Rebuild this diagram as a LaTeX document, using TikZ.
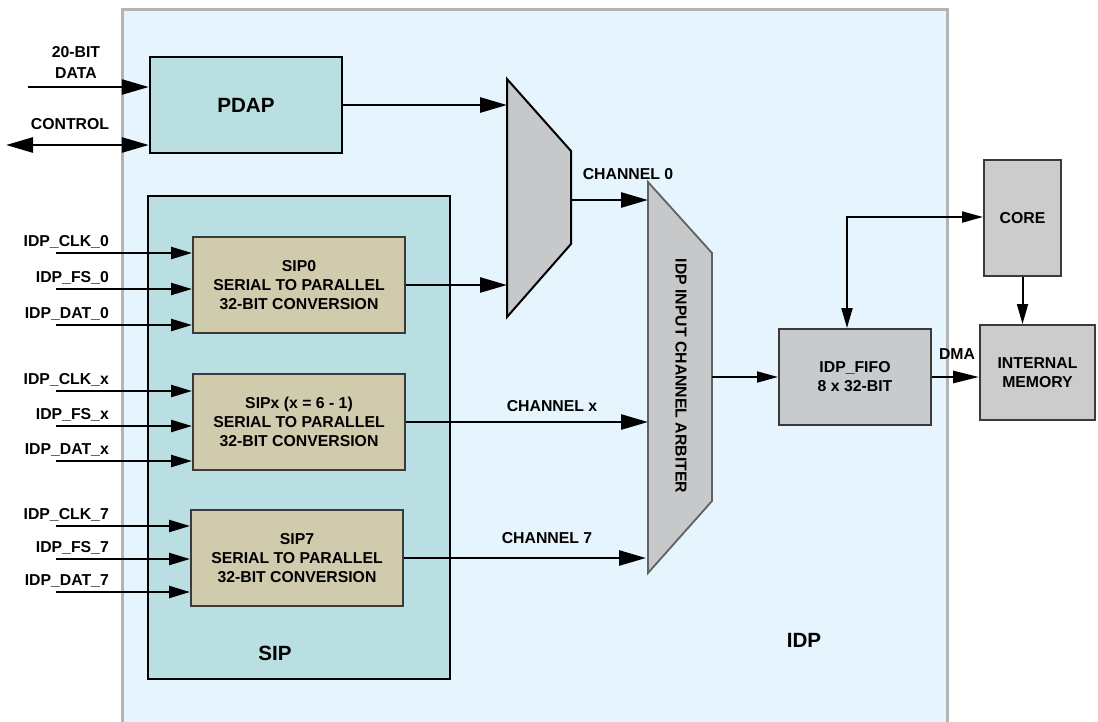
\documentclass[tikz,border=0pt]{standalone}
\usepackage{fontspec}
\setmainfont{Liberation Sans}
\usetikzlibrary{arrows.meta,calc}
\definecolor{idpfill}{HTML}{E6F4FD}
\definecolor{idpborder}{HTML}{B4B4B4}
\definecolor{pdapfill}{HTML}{B9DFE2}
\definecolor{sipfill}{HTML}{D1CBAE}
\definecolor{muxgray}{HTML}{C6C8CA}
\definecolor{fifogray}{HTML}{C8CBCE}
\definecolor{boxgray}{HTML}{CCCCCC}
\definecolor{edgegray}{HTML}{3A3A3A}
\tikzset{
  lbl/.style={font=\fontsize{15.8}{19}\selectfont\bfseries, text=black, inner sep=0pt},
  biglbl/.style={font=\fontsize{20.6}{24}\selectfont\bfseries, text=black, inner sep=0pt},
  tealbox/.style={draw=black, fill=pdapfill, line width=2.4pt, inner sep=0pt},
  sipbox/.style={draw=edgegray, fill=sipfill, line width=2pt, inner sep=0pt, align=center, lbl},
  graybox/.style={draw=edgegray, fill=boxgray, line width=2pt, inner sep=0pt, align=center, lbl},
  inarr/.style={line width=2.3pt, -{Triangle[length=21pt,width=12pt]}},
  bigarr/.style={line width=2.6pt, -{Triangle[length=27pt,width=15pt]}},
  thinarr/.style={line width=1.7pt, -{Triangle[length=21pt,width=11pt]}},
  midarr/.style={line width=2pt, -{Triangle[length=20pt,width=11pt]}},
}
\begin{document}
\begin{tikzpicture}[x=1pt,y=-1pt]
\useasboundingbox (0,0) rectangle (1098,721);
\clip (0,0) rectangle (1098,721);

% IDP block
\node[draw=idpborder, fill=idpfill, line width=2.6pt, anchor=north west,
      minimum width=825pt, minimum height=740pt, inner sep=0pt] (idp) at (121,8) {};
\node[biglbl, anchor=base] (idplbl) at (804,647) {IDP};

% PDAP
\node[tealbox, biglbl, minimum width=192pt, minimum height=96pt] (pdap) at (246,105) {PDAP};

% SIP container
\node[tealbox, minimum width=302pt, minimum height=483pt] (sip) at (299,437.5) {};
\node[biglbl] (siplbl) at (275,653) {SIP};

% SIP blocks
\node[sipbox, minimum width=212pt, minimum height=96pt] (sip0) at (299,285)
  {SIP0\\SERIAL TO PARALLEL\\32-BIT CONVERSION};
\node[sipbox, minimum width=212pt, minimum height=96pt] (sipx) at (299,422)
  {SIPx (x = 6 - 1)\\SERIAL TO PARALLEL\\32-BIT CONVERSION};
\node[sipbox, minimum width=212pt, minimum height=96pt] (sip7) at (297,558)
  {SIP7\\SERIAL TO PARALLEL\\32-BIT CONVERSION};

% MUX
\coordinate (m1a) at (507,79);
\coordinate (m1b) at (571,151);
\coordinate (m1c) at (571,244);
\coordinate (m1d) at (507,317);
\draw[fill=muxgray, line width=2pt, line join=miter] (m1a) -- (m1b) -- (m1c) -- (m1d) -- cycle;
\coordinate (m1w) at (507,200);
\coordinate (m1e) at (571,200);

% Arbiter
\coordinate (ara) at (648,182);
\coordinate (arb) at (712,253);
\coordinate (arc) at (712,501);
\coordinate (ard) at (648,573);
\draw[fill=muxgray, draw=edgegray!80, line width=1.8pt, line join=miter] (ara) -- (arb) -- (arc) -- (ard) -- cycle;
\node[lbl, rotate=-90] (arblbl) at (681,376) {IDP INPUT CHANNEL ARBITER};
\coordinate (arw) at (648,376);
\coordinate (are) at (712,377);

% FIFO, CORE, MEMORY
\node[graybox, fill=fifogray, minimum width=152pt, minimum height=96pt] (fifo) at (855,377)
  {IDP\_FIFO\\8 x 32-BIT};
\node[graybox, minimum width=77pt, minimum height=116pt] (core) at (1022.5,218) {CORE};
\node[graybox, minimum width=115pt, minimum height=95pt] (mem) at (1037.5,372.5)
  {INTERNAL\\MEMORY};

% PDAP inputs
\node[lbl, align=center, font=\fontsize{15.8}{21}\selectfont\bfseries] (datalbl) at (76,62) {20-BIT\\DATA};
\node[lbl, anchor=base] (ctrllbl) at (70,129) {CONTROL};
\coordinate (din) at (28,87);
\coordinate (cin) at (6,145);
\draw[bigarr] (din) -- (din -| pdap.west);
\draw[line width=2.6pt, {Triangle[length=27pt,width=15pt]}-{Triangle[length=27pt,width=15pt]}] (cin) -- (cin -| pdap.west);

% SIP inputs
\foreach \nm/\lab/\yy/\tgt in {
  ca/IDP\_CLK\_0/253/sip0, fa/IDP\_FS\_0/289/sip0, da/IDP\_DAT\_0/325/sip0,
  cx/IDP\_CLK\_x/391/sipx, fx/IDP\_FS\_x/426/sipx, dx/IDP\_DAT\_x/461/sipx,
  c7/IDP\_CLK\_7/526/sip7, f7/IDP\_FS\_7/559/sip7, d7/IDP\_DAT\_7/592/sip7} {
  \coordinate (in\nm) at (56,\yy);
  \node[lbl, anchor=base east] (l\nm) at (109,\yy-7) {\lab};
  \draw[inarr] (in\nm) -- (in\nm -| \tgt.west);
}

% Data path
\draw[bigarr, line width=2.8pt] (pdap.east) -- (pdap.east -| m1w);
\draw[bigarr] (sip0.east) -- (sip0.east -| m1w);
\draw[bigarr] (m1e) -- (m1e -| arw);
\node[lbl] (ch0) at (628,174) {CHANNEL 0};
\draw[bigarr] (sipx.east) -- (sipx.east -| arw);
\node[lbl] (chx) at (552,406) {CHANNEL x};
\coordinate (ar7) at (646,558);
\draw[bigarr] (sip7.east) -- (sip7.east -| ar7);
\node[lbl] (ch7) at (547,538) {CHANNEL 7};
\draw[thinarr] (are) -- (are -| fifo.west);

% FIFO <-> CORE
\coordinate (fc) at (847,217);
\draw[line width=2pt, {Triangle[length=20pt,width=11pt]}-{Triangle[length=21pt,width=11pt]}]
  (fifo.north -| fc) -- (fc) -- (fc -| core.west);
\draw[midarr] (core.south) -- (core.south |- mem.north);
\draw[bigarr, line width=2.6pt, -{Triangle[length=26pt,width=12pt]}] (fifo.east) -- (fifo.east -| mem.west);
\node[lbl] (dma) at (957,354) {DMA};
\end{tikzpicture}
\end{document}
